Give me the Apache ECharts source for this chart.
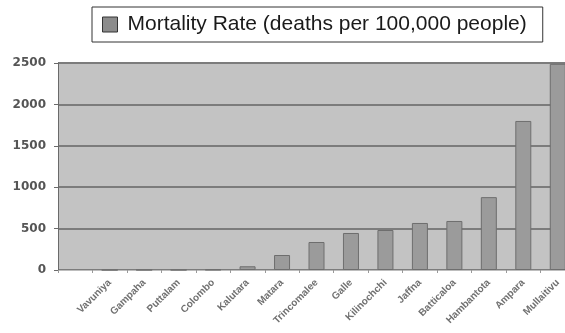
<!DOCTYPE html>
<html>
<head>
<meta charset="utf-8">
<script src="https://cdn.jsdelivr.net/npm/echarts@6/dist/echarts.min.js"></script>
<style>
  html, body { margin: 0; padding: 0; background: #ffffff; }
  #chart { width: 565px; height: 333px; }
</style>
</head>
<body>
<div id="chart"></div>
<script>
// Districts ordered by mortality rate; the leading blank slot keeps an empty gap next to the value axis.
const districts = ['', 'Vavuniya', 'Gampaha', 'Puttalam', 'Colombo', 'Kalutara', 'Matara',
  'Trincomalee', 'Galle', 'Kilinochchi', 'Jaffna', 'Batticaloa', 'Hambantota', 'Ampara', 'Mullaitivu'];
const mortality = [null, 0, 1, 1, 4, 45, 181, 338, 447, 483, 568, 592, 880, 1800, 2490];
const seriesName = 'Mortality Rate (deaths per 100,000 people)';
const yTicks = [0, 500, 1000, 1500, 2000, 2500];

const chart = echarts.init(document.getElementById('chart'), null, { renderer: 'canvas' });

chart.setOption({
  animation: false,
  backgroundColor: '#ffffff',
  legend: {
    left: 92,
    top: 7,
    padding: [7, 16, 7, 10],
    backgroundColor: '#ffffff',
    borderColor: '#333333',
    borderWidth: 1,
    borderRadius: 0,
    icon: 'rect',
    itemWidth: 15,
    itemHeight: 15,
    itemStyle: { color: '#8c8c8c', borderColor: '#333333', borderWidth: 1 },
    textStyle: {
      fontFamily: 'Liberation Sans, Arial, sans-serif',
      fontSize: 21,
      color: '#1a1a1a',
      padding: [0, 0, 0, 5]
    },
    data: [seriesName]
  },
  grid: {
    left: 58,
    top: 63,
    bottom: 63,
    // the plot runs a little past the right edge of the page
    right: -10,
    outerBoundsMode: 'none',
    show: true,
    backgroundColor: '#c3c3c3',
    borderWidth: 0,
    containLabel: false
  },
  xAxis: {
    type: 'category',
    data: districts,
    boundaryGap: true,
    axisLine: { show: true, lineStyle: { color: '#bdbdbd', width: 1 } },
    axisTick: { show: true, length: 3, lineStyle: { color: '#9a9a9a' } },
    axisLabel: {
      interval: 0,
      rotate: 45,
      margin: 11,
      fontFamily: 'Liberation Sans, Arial, sans-serif',
      fontSize: 10,
      fontWeight: 'bold',
      color: '#707070'
    },
    splitLine: { show: false }
  },
  yAxis: {
    type: 'value',
    min: yTicks[0],
    max: yTicks[yTicks.length - 1],
    interval: yTicks[1] - yTicks[0],
    axisLine: { show: true, lineStyle: { color: '#6a6a6a', width: 1 } },
    axisTick: { show: true, length: 4, lineStyle: { color: '#6a6a6a' } },
    axisLabel: {
      margin: 12,
      formatter: (v) => String(v),
      fontFamily: 'DejaVu Sans, sans-serif',
      fontSize: 12,
      fontWeight: 'bold',
      color: '#555555'
    },
    splitLine: { show: true, lineStyle: { color: '#7c7c7c', width: 2 } }
  },
  series: [{
    name: seriesName,
    type: 'bar',
    data: mortality,
    barWidth: 16,
    itemStyle: { color: '#9b9b9b', borderColor: '#6e6e6e', borderWidth: 1 }
  }]
});
</script>
</body>
</html>
